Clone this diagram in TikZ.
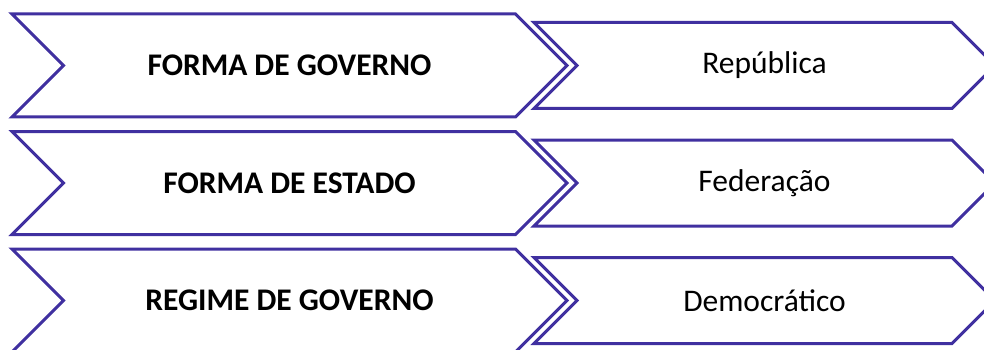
\documentclass[tikz,border=0pt]{standalone}
\usepackage{fontspec}
\setmainfont{Carlito}
\usetikzlibrary{shapes.symbols,positioning}

\definecolor{chevblue}{RGB}{64,48,160}

\tikzset{
  chevron/.style={shape=signal, signal to=east, signal from=west,
    signal pointer angle=90, draw=chevblue, line width=3pt,
    inner sep=0pt, outer sep=0pt, font=\fontsize{31.5}{36}\selectfont},
  bigchev/.style={chevron, minimum width=555pt, minimum height=103pt},
  smallchev/.style={chevron, minimum width=461pt, minimum height=86pt}
}

\begin{document}
\begin{tikzpicture}[x=1pt,y=-1pt]
    \path[use as bounding box, clip] (0,0) rectangle (984,350);

    \node[bigchev] (gov) at (289.5,65.5) {\bfseries FORMA DE GOVERNO};
    \node[bigchev] (est) [below=14.5pt of gov] {\bfseries FORMA DE ESTADO};
    \node[bigchev] (reg) [below=14.5pt of est] {\bfseries REGIME DE GOVERNO};

    \node[smallchev] (rep) [right=10pt of gov] {República};
    \node[smallchev] (fed) [right=10pt of est] {Federação};
    \node[smallchev] (dem) [right=10pt of reg] {Democrático};
  \end{tikzpicture}
\end{document}
